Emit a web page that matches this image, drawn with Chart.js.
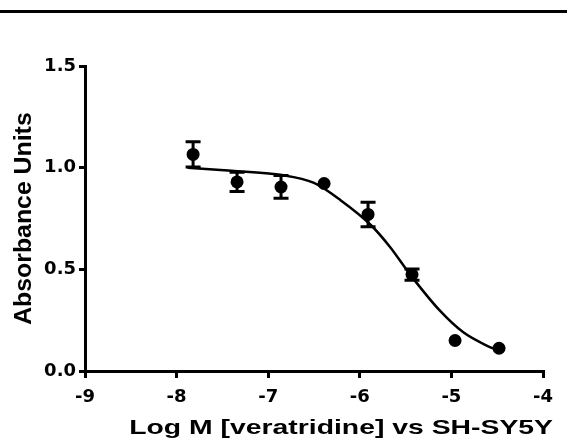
<!DOCTYPE html>
<html>
<head>
<meta charset="utf-8">
<script src="https://cdn.jsdelivr.net/npm/chart.js@4/dist/chart.umd.min.js"></script>
<style>
  html, body { margin: 0; padding: 0; background: #fff; }
  #wrap { position: relative; width: 567px; height: 443px; }
  #rule { position: absolute; left: 0; top: 10px; width: 567px; height: 3px; background: #000; }
  canvas { position: absolute; left: 0; top: 0; }
</style>
</head>
<body>
<div id="wrap">
  <canvas id="chart" width="567" height="443"></canvas>
  <div id="rule"></div>
</div>
<script>
// Measured points: log molar veratridine concentration, mean absorbance, SEM
const logConc    = [-7.82, -7.34, -6.86, -6.39, -5.91, -5.43, -4.96, -4.48];
const absorbance = [1.065, 0.930, 0.905, 0.922, 0.770, 0.474, 0.150, 0.112];
const sem        = [0.062, 0.047, 0.056, 0.000, 0.060, 0.028, 0.000, 0.000];

// Fitted dose-response curve, sampled along the concentration range
const curveX = [-7.88, -7.40, -6.87, -6.50, -6.21, -5.88, -5.67, -5.45, -5.12, -4.87, -4.61, -4.48];
const curveY = [1.000, 0.985, 0.965, 0.925, 0.840, 0.718, 0.610, 0.474, 0.294, 0.190, 0.124, 0.100];

// Axis tick labels
const xTickValues = [-9, -8, -7, -6, -5, -4];
const xTickLabels = ['-9', '-8', '-7', '-6', '-5', '-4'];
const yTickValues = [0, 0.5, 1.0, 1.5];
const yTickLabels = ['0.0', '0.5', '1.0', '1.5'];

const TICK_FONT = '"DejaVu Sans", Verdana, sans-serif';
const TITLE_FONT = '"Liberation Sans", Arial, Helvetica, sans-serif';

const pointData = logConc.map((x, i) => ({ x, y: absorbance[i] }));
const curveData = curveX.map((x, i) => ({ x, y: curveY[i] }));

// Vertical error bars with flat caps, positioned through the chart scales
const errorBars = {
  id: 'errorBars',
  beforeDatasetsDraw(chart) {
    const { ctx, scales: { x, y } } = chart;
    ctx.save();
    ctx.strokeStyle = '#000';
    ctx.lineWidth = 3;
    ctx.lineCap = 'butt';
    logConc.forEach((lx, i) => {
      if (!sem[i]) return;
      const px = x.getPixelForValue(lx);
      const top = y.getPixelForValue(absorbance[i] + sem[i]);
      const bot = y.getPixelForValue(absorbance[i] - sem[i]);
      const half = 7.5;
      ctx.beginPath();
      ctx.moveTo(px, top); ctx.lineTo(px, bot);
      ctx.moveTo(px - half, top); ctx.lineTo(px + half, top);
      ctx.moveTo(px - half, bot); ctx.lineTo(px + half, bot);
      ctx.stroke();
    });
    ctx.restore();
  }
};

// Axis titles are set in a wide face: stretch each along its reading direction
const wideTitles = {
  id: 'wideTitles',
  beforeDraw(chart) {
    const sx = chart.scales.x;
    if (sx && !sx._wideTitle) {
      const base = sx.drawTitle;
      sx.drawTitle = function () {
        const ctx = this.ctx;
        ctx.save();
        ctx.translate(this.right + 10, 0);
        ctx.scale(1.35, 1);
        ctx.translate(-this.right, 0);
        base.call(this);
        ctx.restore();
      };
      sx._wideTitle = true;
    }
    const sy = chart.scales.y;
    if (sy && !sy._wideTitle) {
      const base = sy.drawTitle;
      sy.drawTitle = function () {
        const ctx = this.ctx;
        const cy = (this.top + this.bottom) / 2 - 1;
        ctx.save();
        ctx.translate(0, cy);
        ctx.scale(1, 1.08);
        ctx.translate(0, -cy);
        base.call(this);
        ctx.restore();
      };
      sy._wideTitle = true;
    }
  }
};

new Chart(document.getElementById('chart'), {
  type: 'scatter',
  data: {
    datasets: [
      {
        label: 'Mean',
        data: pointData,
        pointRadius: 6.5,
        pointHoverRadius: 6.5,
        pointBackgroundColor: '#000',
        pointBorderColor: '#000',
        pointBorderWidth: 0,
        showLine: false
      },
      {
        label: 'Fit',
        data: curveData,
        showLine: true,
        pointRadius: 0,
        borderColor: '#000',
        borderWidth: 2.5,
        cubicInterpolationMode: 'monotone',
        fill: false
      }
    ]
  },
  options: {
    responsive: false,
    animation: false,
    events: [],
    layout: { padding: { top: 66, right: 24, bottom: 0, left: 0 } },
    plugins: { legend: { display: false }, tooltip: { enabled: false } },
    scales: {
      x: {
        type: 'linear',
        min: -9,
        max: -4,
        afterFit: s => { s.height = 72; },
        afterBuildTicks: s => { s.ticks = xTickValues.map(v => ({ value: v })); },
        border: { display: true, color: '#000', width: 3 },
        grid: { display: true, drawOnChartArea: false, drawTicks: true, tickLength: 7, tickColor: '#000', lineWidth: 3 },
        ticks: {
          color: '#000',
          padding: 9,
          maxRotation: 0,
          font: { family: TICK_FONT, size: 18, weight: 'bold' },
          callback: (v) => xTickLabels[xTickValues.indexOf(v)]
        },
        title: {
          display: true,
          text: 'Log M [veratridine] vs SH-SY5Y',
          align: 'end',
          color: '#000',
          padding: { top: 0, bottom: 2 },
          font: { family: TITLE_FONT, size: 21, weight: 'bold' }
        }
      },
      y: {
        type: 'linear',
        min: 0,
        max: 1.5,
        afterFit: s => { s.width = 85; },
        afterBuildTicks: s => { s.ticks = yTickValues.map(v => ({ value: v })); },
        border: { display: true, color: '#000', width: 3 },
        grid: { display: true, drawOnChartArea: false, drawTicks: true, tickLength: 6, tickColor: '#000', lineWidth: 3 },
        ticks: {
          color: '#000',
          padding: 3,
          font: { family: TICK_FONT, size: 18, weight: 'bold' },
          callback: (v) => yTickLabels[yTickValues.indexOf(v)]
        },
        title: {
          display: true,
          text: 'Absorbance Units',
          color: '#000',
          padding: { top: 11, bottom: 0 },
          font: { family: TITLE_FONT, size: 23, weight: 'bold' }
        }
      }
    }
  },
  plugins: [errorBars, wideTitles]
});
</script>
</body>
</html>
